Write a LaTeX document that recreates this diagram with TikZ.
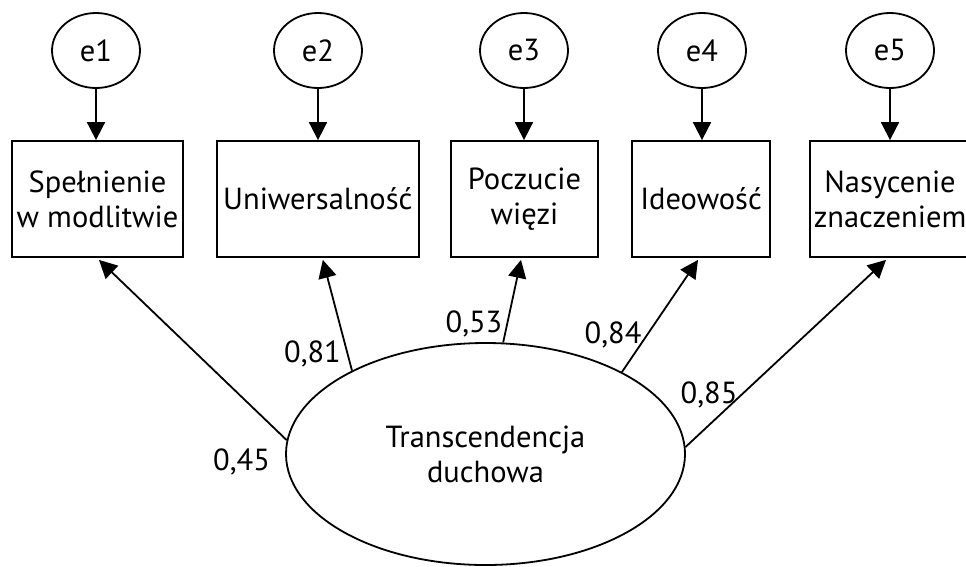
\documentclass[tikz,border=0pt]{standalone}
\usepackage{fontspec}
\setmainfont{PT Sans}
\usetikzlibrary{arrows.meta,calc,shapes.geometric}
\begin{document}
\begin{tikzpicture}[x=1pt,y=-1pt,
  every node/.style={font=\fontsize{30.5}{35}\selectfont, inner sep=0pt},
  err/.style={draw, line width=1.8pt, ellipse, minimum width=88pt, minimum height=75pt},
  obs/.style={draw, line width=1.8pt, rectangle, minimum height=116pt, align=center},
  lat/.style={draw, line width=1.8pt, ellipse, minimum width=399pt, minimum height=222pt, align=center},
  arr/.style={line width=1.8pt, -{Triangle[length=18pt,width=18pt]}},
  coef/.style={anchor=base}
]
\useasboundingbox (0,0) rectangle (966,566);

\node[err] (e1) at (96,50.5) {e1};
\node[err] (e2) at (318,50.5) {e2};
\node[err] (e3) at (524,50.5) {e3};
\node[err] (e4) at (702,50.5) {e4};
\node[err] (e5) at (890,50.5) {e5};

\node[obs, minimum width=171.6pt] (b1) at (97.5,199) {Spełnienie\\w modlitwie};
\node[obs, minimum width=201.6pt] (b2) at (317.8,199) {Uniwersalność};
\node[obs, minimum width=147pt] (b3) at (524.5,199) {Poczucie\\więzi};
\node[obs, minimum width=138pt] (b4) at (701,199) {Ideowość};
\node[obs, minimum width=160pt] (b5) at (890,199) {Nasycenie\\znaczeniem};

\node[lat] (big) at (485.5,454) {Transcendencja\\duchowa};

\foreach \i in {1,...,5}{
  \draw[arr] (e\i.south) -- (e\i.south |- b\i.north);
}

\coordinate (t1) at ($(b1.south)+(1.5,2)$);
\coordinate (t2) at ($(b2.south)+(5,2)$);
\coordinate (t3) at ($(b3.south)+(-3.5,2)$);
\coordinate (t4) at ($(b4.south)+(-3,2)$);
\coordinate (t5) at ($(b5.south)+(-4,2)$);

\draw[arr] (big.176.8) -- (t1);
\draw[arr] (big.148.6) -- (t2);
\draw[arr] (big.81) -- (t3);
\draw[arr] (big.31.5) -- (t4);
\draw[arr] (big.2.6) -- (t5);

\node[coef] (c1) at (241.6,470) {0,45};
\node[coef] (c2) at (312.5,362) {0,81};
\node[coef] (c3) at (474,332) {0,53};
\node[coef] (c4) at (613,343) {0,84};
\node[coef] (c5) at (709,403.6) {0,85};
\end{tikzpicture}
\end{document}
